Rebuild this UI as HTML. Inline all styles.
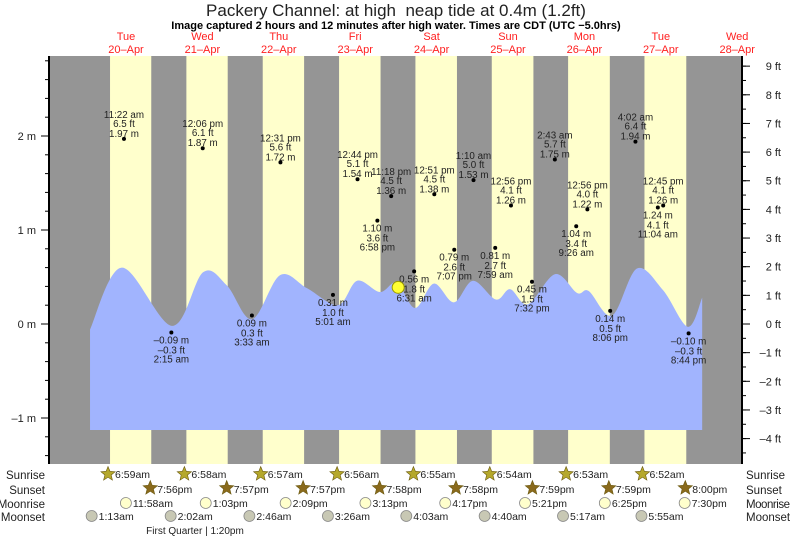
<!DOCTYPE html>
<html><head><meta charset="utf-8"><style>
html,body{margin:0;padding:0;background:#fff;}
svg{display:block;font-family:"Liberation Sans",sans-serif;}
</style></head><body>
<svg id="chart" width="793" height="538" viewBox="0 0 793 538" xmlns="http://www.w3.org/2000/svg">
<text x="396" y="16" font-size="17" text-anchor="middle" fill="#222" style="white-space:pre">Packery Channel: at high  neap tide at 0.4m (1.2ft)</text>
<text x="396" y="29" font-size="11" font-weight="bold" text-anchor="middle" fill="#000">Image captured 2 hours and 12 minutes after high water. Times are CDT (UTC −5.0hrs)</text>
<g id="bands"></g><g id="area"></g><g id="tides"></g><g id="axes"></g><g id="days"></g><g id="astro"></g>
<text x="195" y="534" font-size="10" text-anchor="middle" fill="#222">First Quarter | 1:20pm</text>
</svg>
<script>
// ---- data ----
const dayNames = ["Tue","Wed","Thu","Fri","Sat","Sun","Mon","Tue","Wed"];
const dayDates = ["20\u2013Apr","21\u2013Apr","22\u2013Apr","23\u2013Apr","24\u2013Apr","25\u2013Apr","26\u2013Apr","27\u2013Apr","28\u2013Apr"];
const sunrise = ["6:59am","6:58am","6:57am","6:56am","6:55am","6:54am","6:53am","6:52am"];
const sunset = ["7:56pm","7:57pm","7:57pm","7:58pm","7:58pm","7:59pm","7:59pm","8:00pm"];
const moonrise = ["11:58am","1:03pm","2:09pm","3:13pm","4:17pm","5:21pm","6:25pm","7:30pm"];
const moonset = ["1:13am","2:02am","2:46am","3:26am","4:03am","4:40am","5:17am","5:55am"];
// curve: hours since Apr 20 00:00, metres
const curveHours = [0.7,10.7,26.5,36.2,43.7,51.6,60.4,68.9,78.6,84.6,91.8,97.1,102.8,108.7,115.0,121.0,128.2,132.7,138.3,146.8,153.7,157.4,164.7,172.5,180.7,188.5,193.0];
const curveMetres = [-0.06,0.60,-0.02,0.55,0.41,0.05,0.52,0.38,0.20,0.46,0.34,0.44,0.17,0.43,0.23,0.46,0.26,0.37,0.21,0.53,0.33,0.35,0.09,0.59,0.36,-0.03,0.28];
// tide events
const tideTimes = ["11:22 am","2:15 am","12:06 pm","3:33 am","12:31 pm","5:01 am","12:44 pm","6:58 pm","11:18 pm","6:31 am","12:51 pm","7:07 pm","1:10 am","7:59 am","12:56 pm","7:32 pm","2:43 am","9:26 am","12:56 pm","8:06 pm","4:02 am","11:04 am","12:45 pm","8:44 pm"];
const tideDays = [0,1,1,2,2,3,3,3,3,4,4,4,5,5,5,5,6,6,6,6,7,7,7,7];
const tideMetres = [1.97,-0.09,1.87,0.09,1.72,0.31,1.54,1.10,1.36,0.56,1.38,0.79,1.53,0.81,1.26,0.45,1.75,1.04,1.22,0.14,1.94,1.24,1.26,-0.10];
const tideFeet = ["6.5","-0.3","6.1","0.3","5.6","1.0","5.1","3.6","4.5","1.8","4.5","2.6","5.0","2.7","4.1","1.5","5.7","3.4","4.0","0.5","6.4","4.1","4.1","-0.3"];
const tideBelow = [0,1,0,1,0,1,0,1,0,1,0,1,0,1,0,1,0,1,0,1,0,1,0,1];
const nowHour = 97.5, nowMetres = 0.39;
const mTicks = [2,1,0,-1];
const ftTicks = [9,8,7,6,5,4,3,2,1,0,-1,-2,-3,-4];

// ---- scales ----
const X0=87.8, PXH=76.4/24;
const xs = h => X0 + h*PXH;
const ym = m => 324 - 94*m;
const yf = f => ym(f*0.3048);
const PL=49, PR=742, PT=56, PB=464;
function parseT(s){const m=s.replace(/\s/g,'').match(/(\d+):(\d+)(am|pm)/);let h=+m[1]%12;if(m[3]=='pm')h+=12;return h+ +m[2]/60;}
const NS="http://www.w3.org/2000/svg";
function mk(tag,attrs,parent,txt){const e=document.createElementNS(NS,tag);for(const k in attrs)e.setAttribute(k,attrs[k]);if(txt!=null)e.textContent=txt;parent.appendChild(e);return e;}
const g=id=>document.getElementById(id);
const minus=s=>s.replace('-','\u2013');

// bands
let b=mk('rect',{x:PL,y:PT,width:PR-PL,height:PB-PT,fill:'#959595'},g('bands'));


for(let i=0;i<sunrise.length;i++){
  const x1=xs(24*i+parseT(sunrise[i])), x2=xs(24*i+parseT(sunset[i]));
  const r=mk('rect',{x:x1,y:PT,width:x2-x1,height:PB-PT,fill:'#ffffcc'},g('bands'));
  
  
}
// area
const pts=curveHours.map((h,i)=>[xs(h),ym(curveMetres[i])]);
const base=430;
let d=`M${pts[0][0]},${base} L${pts[0][0]},${pts[0][1]}`;
for(let i=0;i<pts.length-1;i++){
  const p0=pts[Math.max(0,i-1)],p1=pts[i],p2=pts[i+1],p3=pts[Math.min(pts.length-1,i+2)];
  const c1=[p1[0]+(p2[0]-p0[0])/6,p1[1]+(p2[1]-p0[1])/6];
  const c2=[p2[0]-(p3[0]-p1[0])/6,p2[1]-(p3[1]-p1[1])/6];
  d+=` C${c1[0]},${c1[1]} ${c2[0]},${c2[1]} ${p2[0]},${p2[1]}`;
}
d+=` L${pts[pts.length-1][0]},${base} Z`;
const a=mk('path',{d:d,fill:'#a1b4fe'},g('area'));


// tide labels
for(let i=0;i<tideTimes.length;i++){
  const x=xs(24*tideDays[i]+parseT(tideTimes[i])), y=ym(tideMetres[i]);
  const dot=mk('circle',{cx:x,cy:y,r:2,fill:'#000'},g('tides'));
  
  
  const lines = tideBelow[i] ? [minus(tideMetres[i].toFixed(2))+' m', minus(tideFeet[i])+' ft', tideTimes[i]]
                             : [tideTimes[i], minus(tideFeet[i])+' ft', tideMetres[i].toFixed(2)+' m'];
  const offs = tideBelow[i] ? [11,21,30] : [-21,-12,-2];
  lines.forEach((t,j)=>{
    const tx=mk('text',{x:x,y:y+offs[j],'font-size':'9.8','text-anchor':'middle',fill:'#222'},g('tides'),t);
    
    
  });
}
const now=mk('circle',{cx:xs(nowHour),cy:ym(nowMetres),r:6,fill:'#ffff33',stroke:'#999900','stroke-width':1},g('tides'));


// axes
const ax=g('axes');
let l=mk('line',{x1:PL,y1:PT,x2:PL,y2:PB,stroke:'#000','stroke-width':2},ax);


l=mk('line',{x1:PR,y1:PT,x2:PR,y2:PB,stroke:'#000','stroke-width':2},ax);


for(let m=-1.4;m<=2.81;m+=0.2){const y=ym(m);mk('line',{x1:PL-4,y1:y,x2:PL,y2:y,stroke:'#000'},ax);}
mTicks.forEach(m=>{const y=ym(m);mk('line',{x1:PL-8,y1:y,x2:PL,y2:y,stroke:'#000'},ax);
  const t=mk('text',{x:36,y:y+4,'font-size':'11','text-anchor':'end',fill:'#222'},ax,minus(String(m))+' m');
  
  });
for(let f=-4.5;f<=9.01;f+=0.5){const y=yf(f);mk('line',{x1:PR,y1:y,x2:PR+4,y2:y,stroke:'#000'},ax);}
ftTicks.forEach(f=>{const y=yf(f);mk('line',{x1:PR,y1:y,x2:PR+8,y2:y,stroke:'#000'},ax);
  const t=mk('text',{x:781,y:y+4,'font-size':'11','text-anchor':'end',fill:'#222'},ax,minus(String(f))+' ft');
  
  });
// day labels
dayNames.forEach((n,i)=>{const x=xs(24*i+12);
  const t1=mk('text',{x:x,y:40,'font-size':'11','text-anchor':'middle',fill:'#ff2020'},g('days'),n);
  
  
  const t2=mk('text',{x:x,y:53,'font-size':'11','text-anchor':'middle',fill:'#ff2020'},g('days'),dayDates[i]);
  
  });
// astro rows
const as=g('astro');
function star(cx,cy,fill){let p='';for(let k=0;k<10;k++){const r=k%2?3.3:7.5,an=-Math.PI/2+k*Math.PI/5;p+=(cx+r*Math.cos(an)).toFixed(1)+','+(cy+r*Math.sin(an)).toFixed(1)+' ';}
  const s=mk('polygon',{points:p,fill:fill,stroke:'#6b5a10','stroke-width':0.6},as);
  
  }
function moon(cx,cy,fill){const c=mk('circle',{cx:cx,cy:cy,r:5.5,fill:fill,stroke:'#888','stroke-width':0.8},as);
  
  }
function lbl(x,y,t,name){const e=mk('text',{x:x,y:y,'font-size':'10.5',fill:'#222'},as,t);
  
  }
const rows=[["Sunrise",478],["Sunset",493],["Moonrise",507],["Moonset",520]];
rows.forEach(r=>{
  const t1=mk('text',{x:45,y:r[1]+1,'font-size':'11.5','text-anchor':'end',fill:'#222'},as,r[0]);
  
  
  const t2=mk('text',{x:746,y:r[1]+1,'font-size':'11.5',fill:'#222',textLength:r[0]=="Moonrise"?44:null},as,r[0]);
  if(r[0]!="Moonrise")t2.removeAttribute('textLength');
  
  });
sunrise.forEach((t,i)=>{const x=xs(24*i+parseT(t))-2;star(x,474,'#b5a82c');lbl(x+7,478,t,'sunrise-time');});
sunset.forEach((t,i)=>{const x=xs(24*i+parseT(t))-1;star(x,488,'#8a6a1c');lbl(x+7,493,t,'sunset-time');});
moonrise.forEach((t,i)=>{const x=xs(24*i+parseT(t));moon(x,503,'#ffffcc');lbl(x+7,507,t,'moonrise-time');});
moonset.forEach((t,i)=>{const x=xs(24*i+parseT(t));moon(x,516,'#c8c8b4');lbl(x+7,520,t,'moonset-time');});
</script>
</body></html>
